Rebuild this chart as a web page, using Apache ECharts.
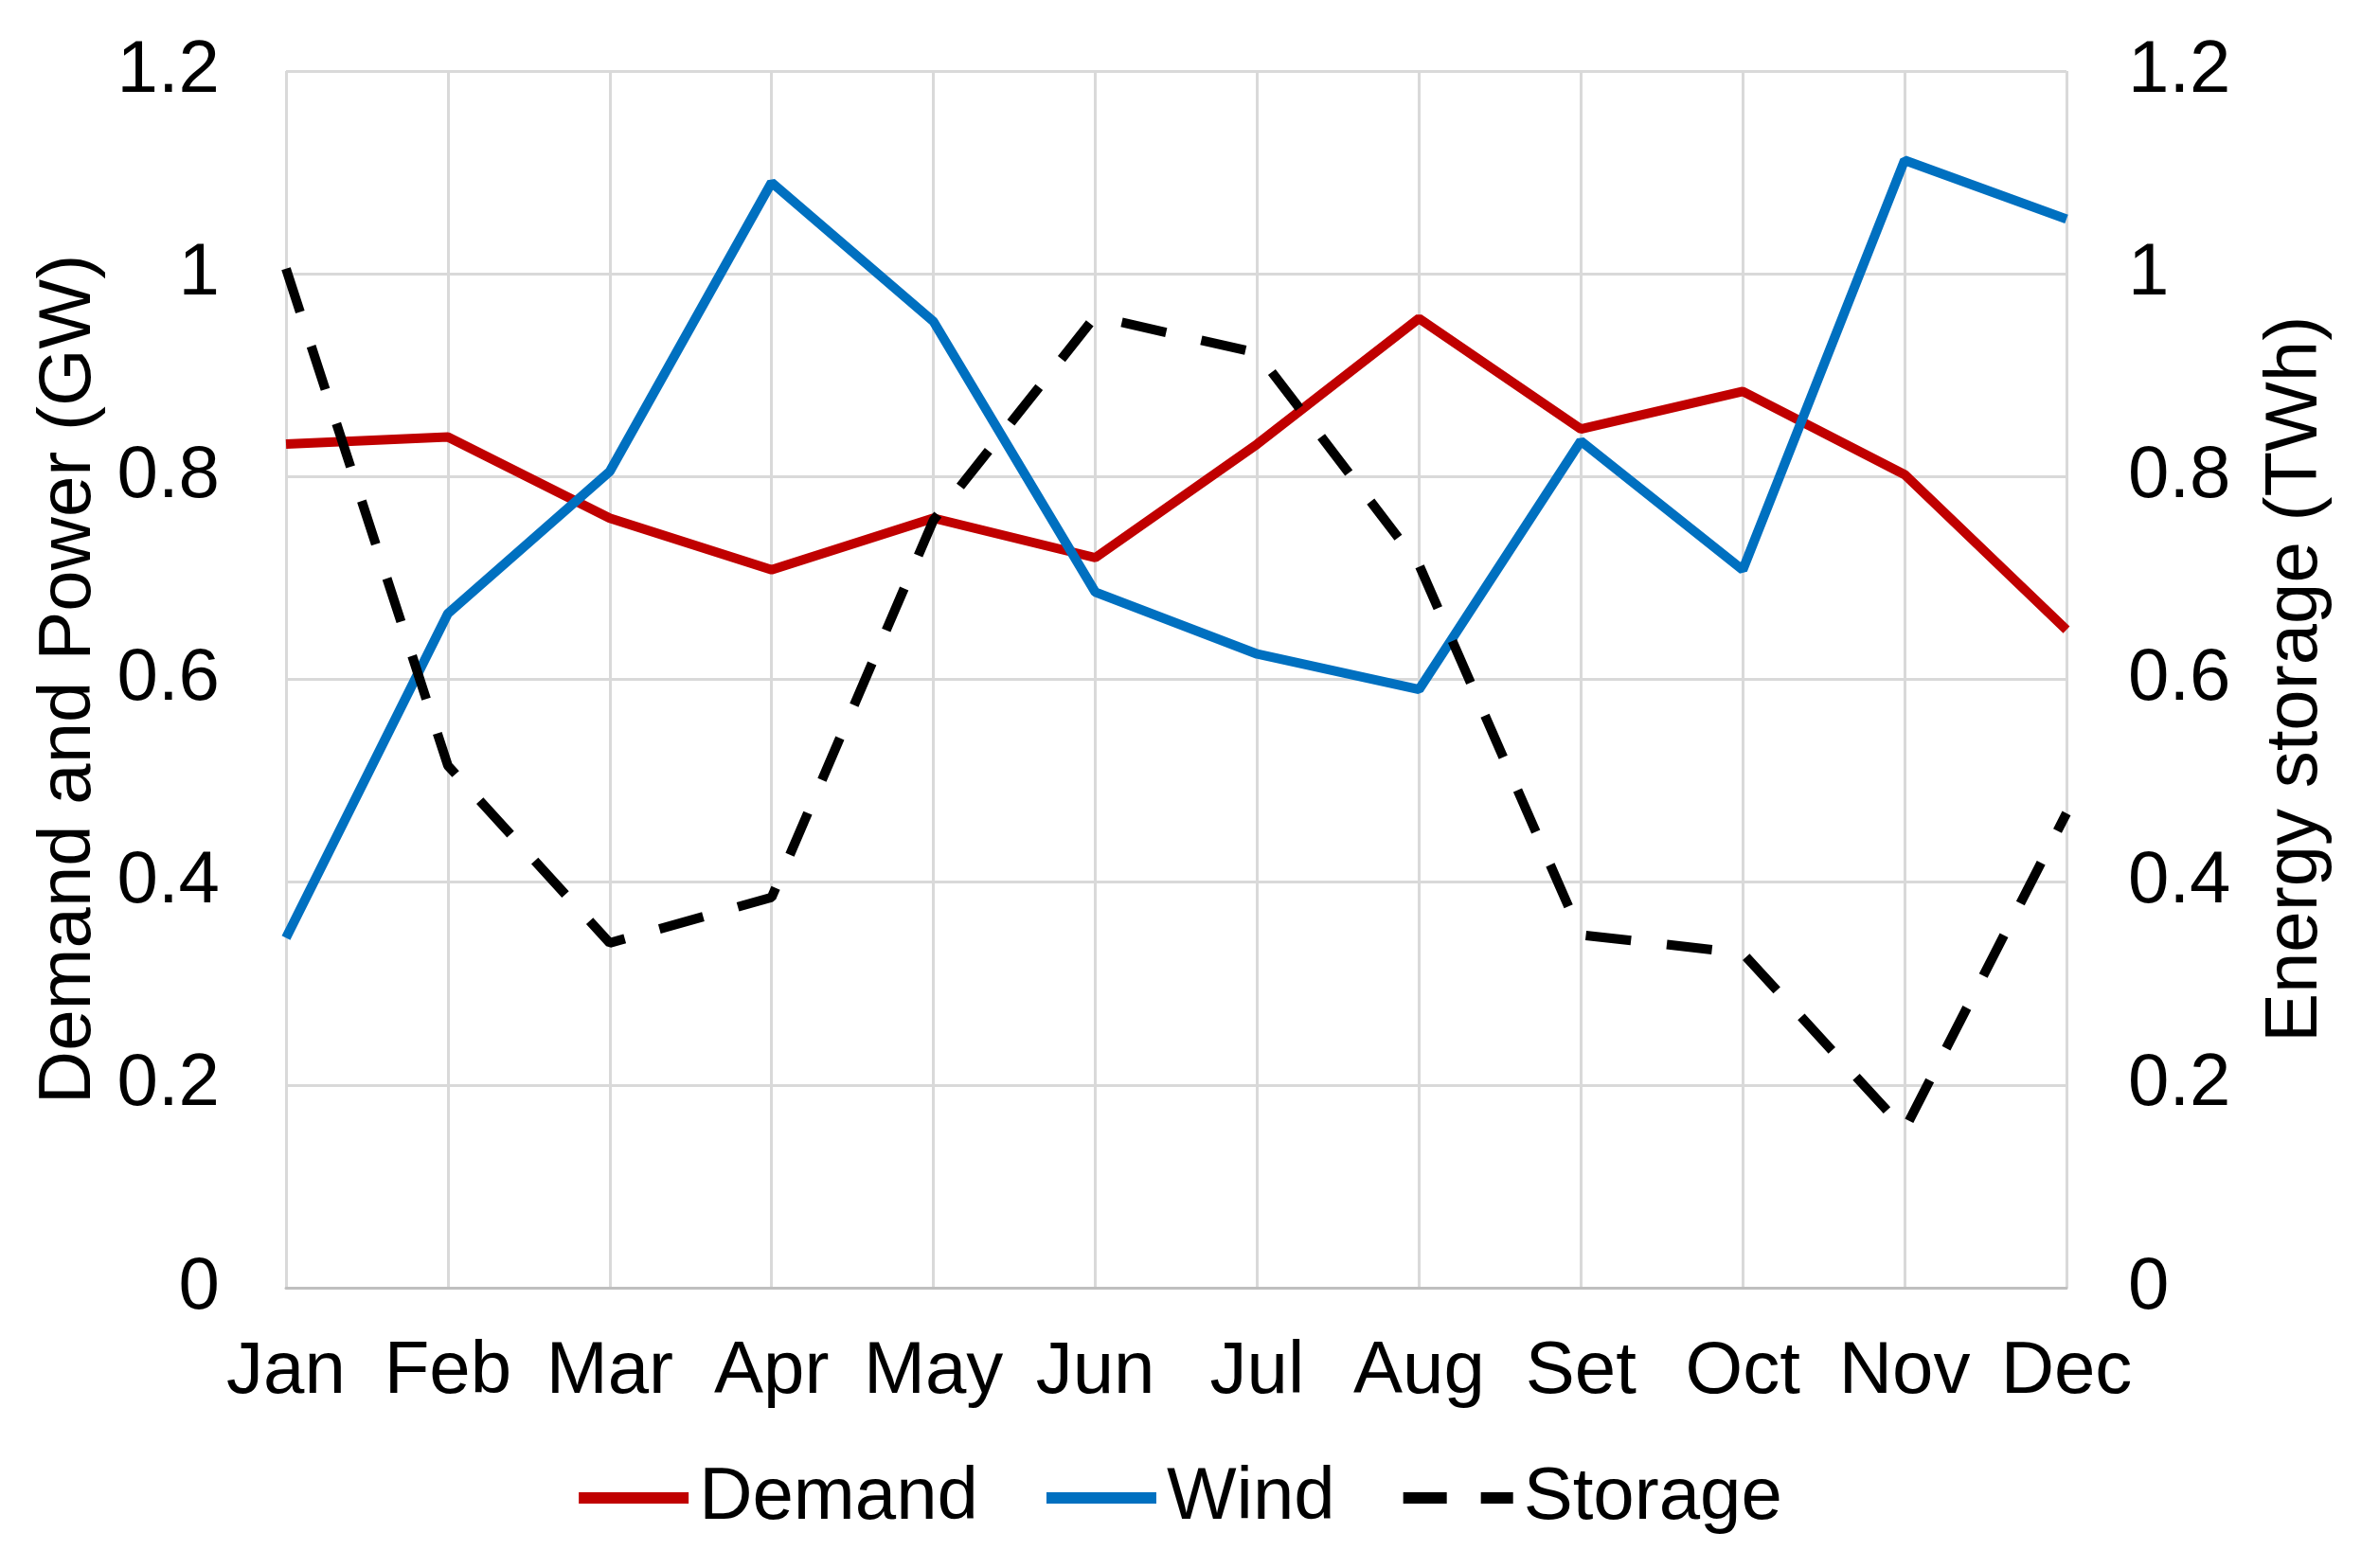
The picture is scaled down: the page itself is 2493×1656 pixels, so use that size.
<!DOCTYPE html>
<html>
<head>
<meta charset="utf-8">
<script src="https://cdn.jsdelivr.net/npm/echarts@6/dist/echarts.min.js"></script>
<style>
html,body{margin:0;padding:0;background:#fff;}
#chart{width:2493px;height:1656px;}
</style>
</head>
<body>
<div id="chart"></div>
<script>
const months = ['Jan','Feb','Mar','Apr','May','Jun','Jul','Aug','Set','Oct','Nov','Dec'];
const demand = [0.832,0.839,0.759,0.708,0.759,0.720,0.832,0.956,0.847,0.884,0.802,0.649];
const wind = [0.345,0.665,0.805,1.090,0.953,0.686,0.625,0.590,0.835,0.708,1.112,1.054];
const storage = [1.005,0.515,0.340,0.385,0.757,0.958,0.922,0.713,0.348,0.330,0.156,0.468];
const yTicksMax = 1.2;
const yTickStep = 0.2;

const FONT = 'Liberation Sans, Arial, sans-serif';
const FS = 78;
const chart = echarts.init(document.getElementById('chart'), null, {renderer:'canvas'});
chart.setOption({
  animation:false,
  backgroundColor:'#fff',
  textStyle:{fontFamily:FONT,color:'#000'},
  grid:{left:302,right:311,top:75,bottom:296,containLabel:false},
  legend:{
    bottom:30,left:'center',
    itemWidth:116,itemHeight:12,itemGap:72,
    textStyle:{fontSize:FS,color:'#000',fontFamily:FONT,padding:[0,0,0,6]},
    data:[
      {name:'Demand',icon:'path://M0,0h116v12h-116z'},
      {name:'Wind',icon:'path://M0,0h116v12h-116z'},
      {name:'Storage',icon:'path://M0,0h46v12h-46z M82,0h34v12h-34z'}
    ]
  },
  xAxis:{
    type:'category',data:months,boundaryGap:false,
    axisLine:{show:true,lineStyle:{color:'#BFBFBF',width:3}},
    axisTick:{show:false},
    axisLabel:{fontSize:FS,color:'#000',margin:50,fontFamily:FONT,interval:0},
    splitLine:{show:true,interval:0,lineStyle:{color:'#D9D9D9',width:3}}
  },
  yAxis:[{
    type:'value',min:0,max:yTicksMax,interval:yTickStep,
    name:'Demand and Power (GW)',nameLocation:'middle',nameRotate:90,nameGap:190,
    nameTextStyle:{fontSize:FS,color:'#000',fontFamily:FONT},
    axisLine:{show:false},axisTick:{show:false},
    axisLabel:{fontSize:FS,color:'#000',margin:70,fontFamily:FONT},
    splitLine:{show:true,lineStyle:{color:'#D9D9D9',width:3}}
  },{
    type:'value',min:0,max:yTicksMax,interval:yTickStep,position:'right',
    name:'Energy storage (TWh)',nameLocation:'middle',nameRotate:90,nameGap:203,
    nameTextStyle:{fontSize:FS,color:'#000',fontFamily:FONT},
    axisLine:{show:false},axisTick:{show:false},
    axisLabel:{fontSize:FS,color:'#000',margin:65,fontFamily:FONT},
    splitLine:{show:false}
  }],
  series:[
    {name:'Demand',type:'line',data:demand,yAxisIndex:0,symbol:'none',
     itemStyle:{color:'#C00000'},lineStyle:{color:'#C00000',width:10}},
    {name:'Wind',type:'line',data:wind,yAxisIndex:0,symbol:'none',
     itemStyle:{color:'#0070C0'},lineStyle:{color:'#0070C0',width:10}},
    {name:'Storage',type:'line',data:storage,yAxisIndex:1,symbol:'none',
     itemStyle:{color:'#000'},lineStyle:{color:'#000',width:10,type:[48,38]}}
  ]
});
</script>
</body>
</html>
